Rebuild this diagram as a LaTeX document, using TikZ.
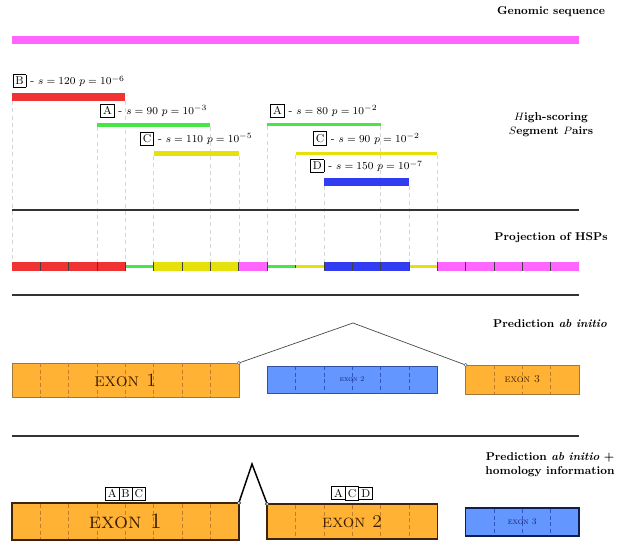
\documentclass[tikz,border=0pt]{standalone}
\usepackage{fontspec}
\definecolor{pinkc}{RGB}{255,102,255}
\definecolor{redc}{RGB}{240,50,50}
\definecolor{greenc}{RGB}{70,230,70}
\definecolor{yellowc}{RGB}{230,225,10}
\definecolor{bluec}{RGB}{50,60,240}
\definecolor{orangec}{RGB}{255,178,51}
\definecolor{lbluec}{RGB}{100,150,255}
\definecolor{brownt}{RGB}{60,30,0}
\definecolor{navyt}{RGB}{25,25,90}
\newcommand\hb[1]{{\setlength\fboxsep{1.6pt}\setlength\fboxrule{0.5pt}\fbox{\vphantom{B}#1}}}
\begin{document}
\begin{tikzpicture}[x=0.75pt,y=-0.75pt,
  declare function={u(\k)=12+28.35*\k;},
  lab/.style={font=\fontsize{8.5}{10.5}\selectfont, inner sep=0pt, anchor=south},
  side/.style={font=\fontsize{8.5}{10.5}\selectfont\bfseries, align=center, inner sep=0pt},
  vdash/.style={draw=black!16, line width=0.4pt, dash pattern=on 3pt off 2.5pt},
  sepline/.style={line width=1.5pt, draw=black!80},
  tick/.style={draw=black!75, line width=0.5pt},
  exon/.style={anchor=north west, inner sep=0pt, outer sep=0pt},
  oA/.style={exon, fill=orangec, draw={rgb,255:red,160;green,120;blue,60}, line width=0.45pt, text=brownt},
  bA/.style={exon, fill=lbluec, draw={rgb,255:red,50;green,80;blue,160}, line width=0.45pt, text=navyt},
  oB/.style={exon, fill=orangec, draw={rgb,255:red,60;green,35;blue,10}, line width=1.1pt, text=brownt},
  bB/.style={exon, fill=lbluec, draw={rgb,255:red,15;green,30;blue,80}, line width=1.1pt, text=navyt},
  odash/.style={draw={rgb,255:red,195;green,125;blue,40}, line width=0.4pt, dash pattern=on 3pt off 2pt},
  bdash/.style={draw={rgb,255:red,45;green,85;blue,200}, line width=0.4pt, dash pattern=on 3pt off 2pt},
  intronA/.style={draw=black!75, line width=0.5pt},
  intronB/.style={draw=black, line width=1.1pt},
  dotA/.style={draw={rgb,255:red,90;green,110;blue,140}, fill=white, line width=0.4pt},
  dotB/.style={draw=black!80, fill=white, line width=0.5pt}]
\useasboundingbox (0,0) rectangle (625,552);

% genomic sequence
\fill[pinkc] ({u(0)},36) rectangle ({u(20)},44);
\node[side] (gs) at (551,12) {Genomic sequence};

% dashed guides
\foreach \k/\yy in {0/101,4/101,3/127,7/127,5/156,8/156,9/126,13/126,10/155,15/155,11/186,14/186}
  \draw[vdash] ({u(\k)},\yy) -- ({u(\k)},262.5);

% HSP bars
\fill[redc] ({u(0)},93) rectangle ({u(4)},101);
\node[lab] (lb) at ({(u(0)+u(4))/2},88) {\hb{B} - $s=120$ $p=10^{-6}$};
\fill[greenc] ({u(3)},123) rectangle ({u(7)},127);
\node[lab] (la1) at ({(u(3)+u(7))/2},117.5) {\hb{A} - $s=90$ $p=10^{-3}$};
\fill[yellowc] ({u(5)},151) rectangle ({u(8)},156);
\node[lab] (lc1) at ({(u(5)+u(8))/2},146) {\hb{C} - $s=110$ $p=10^{-5}$};
\fill[greenc] ({u(9)},123) rectangle ({u(13)},126.5);
\node[lab] (la2) at ({(u(9)+u(13))/2},117.5) {\hb{A} - $s=80$ $p=10^{-2}$};
\fill[yellowc] ({u(10)},152) rectangle ({u(15)},155);
\node[lab] (lc2) at ({(u(10)+u(15))/2},145.5) {\hb{C} - $s=90$ $p=10^{-2}$};
\fill[bluec] ({u(11)},178) rectangle ({u(14)},186);
\node[lab] (ld) at ({(u(11)+u(14))/2},173) {\hb{D} - $s=150$ $p=10^{-7}$};
\node[side] (hsp) at (551,124.5) {$H$igh-scoring\\$S$egment $P$airs};

\draw[sepline] ({u(0)},210) -- ({u(20)},210);

% projection
\foreach \a/\b/\c in {0/4/redc,5/8/yellowc,8/9/pinkc,11/14/bluec,15/20/pinkc}
  \fill[\c] ({u(\a)},262.5) rectangle ({u(\b)},271);
\foreach \a/\b/\c in {4/5/greenc,9/10/greenc,10/11/yellowc,14/15/yellowc}
  \fill[\c] ({u(\a)},265.3) rectangle ({u(\b)},268.3);
\foreach \k in {1,2,3,4,5,6,7,8,9,11,12,13,14,15,16,17,18,19}
  \draw[tick] ({u(\k)},262.5) -- ({u(\k)},271);
\draw[tick] ({u(10)},265.3) -- ({u(10)},268.3);
\node[side] (proj) at (551,238) {Projection of HSPs};

\draw[sepline] ({u(0)},295) -- ({u(20)},295);

% prediction ab initio
\node[side] (pai) at (550,324) {Prediction \textit{ab initio}};
\node[oA, minimum width=170.1pt, minimum height=25.5pt] (e1a) at ({u(0)},363) {};
\node[bA, minimum width=127.575pt, minimum height=20.25pt] (e2a) at ({u(9)},366) {};
\node[oA, minimum width=85.05pt, minimum height=21.75pt] (e3a) at ({u(16)},365) {};
\foreach \k in {1,...,7} \draw[odash] ({u(\k)},363) -- ({u(\k)},397);
\foreach \k in {10,...,14} \draw[bdash] ({u(\k)},366) -- ({u(\k)},393);
\foreach \k in {17,18,19} \draw[odash] ({u(\k)},365) -- ({u(\k)},394);
\node[text=brownt, font=\fontsize{14}{14}\selectfont] (t1a) at (e1a.center) {\textsc{exon 1}};
\node[text=navyt, font=\fontsize{5.5}{5.5}\selectfont] (t2a) at (e2a.center) {\textsc{exon 2}};
\node[text=brownt, font=\fontsize{8}{8}\selectfont] (t3a) at (e3a.center) {\textsc{exon 3}};
\coordinate (pk1) at (353,323);
\draw[intronA] (e1a.north east) -- (pk1) -- (e3a.north west);
\draw[dotA] (e1a.north east) circle (1.2pt);
\draw[dotA] (e3a.north west) circle (1.2pt);

\draw[sepline] ({u(0)},436) -- ({u(20)},436);

% prediction ab initio + homology
\node[side] (pah) at (550,465) {Prediction \textit{ab initio} +\\homology information};
\node[oB, minimum width=170.1pt, minimum height=27.75pt] (e1b) at ({u(0)},503) {};
\node[oB, minimum width=127.575pt, minimum height=26.25pt] (e2b) at ({u(9)},504) {};
\node[bB, minimum width=85.05pt, minimum height=21pt] (e3b) at ({u(16)},508) {};
\foreach \k in {1,...,7} \draw[odash] ({u(\k)},504) -- ({u(\k)},539);
\foreach \k in {10,...,14} \draw[odash] ({u(\k)},505) -- ({u(\k)},538);
\foreach \k in {17,18,19} \draw[bdash] ({u(\k)},509) -- ({u(\k)},535);
\node[text=brownt, font=\fontsize{16.5}{16.5}\selectfont] (t1b) at (e1b.center) {\textsc{exon 1}};
\node[text=brownt, font=\fontsize{13.5}{13.5}\selectfont] (t2b) at (e2b.center) {\textsc{exon 2}};
\node[text=navyt, font=\fontsize{6.5}{6.5}\selectfont] (t3b) at (e3b.center) {\textsc{exon 3}};
\node[lab] (tg1) at ({(u(0)+u(8))/2},501) {\hb{A}\kern-0.5pt\hb{B}\kern-0.5pt\hb{C}};
\node[lab] (tg2) at ({(u(9)+u(15))/2},500.5) {\hb{A}\kern-0.5pt\hb{C}\kern-0.5pt\hb{D}};
\coordinate (pk2) at (252,464);
\draw[intronB] (e1b.north east) -- (pk2) -- (e2b.north west);
\draw[dotB] (e1b.north east) circle (1.3pt);
\draw[dotB] (e2b.north west) circle (1.3pt);
\end{tikzpicture}
\end{document}
